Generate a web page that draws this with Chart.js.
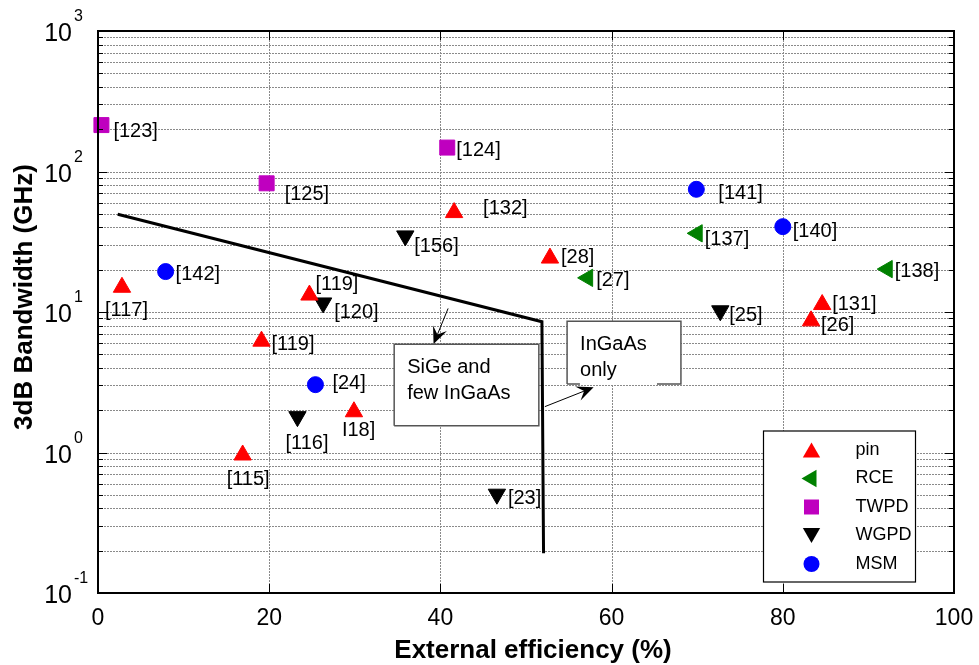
<!DOCTYPE html>
<html>
<head>
<meta charset="utf-8">
<script src="https://cdn.jsdelivr.net/npm/chart.js@4.4.0/dist/chart.umd.min.js"></script>
<style>
  html, body { margin: 0; padding: 0; background: #fff; }
  canvas { display: block; }
</style>
</head>
<body>
<canvas id="chart" width="979" height="665"></canvas>
<script>
// axis ticks
const xTicks = [0, 20, 40, 60, 80, 100];
const yDecades = [-1, 0, 1, 2, 3];

// pin photodiodes
const pinEff = [2.8, 24.7, 41.6, 19.1, 29.9, 16.9, 52.8, 84.6, 83.3];
const pinBw = [15.0, 13.2, 51, 6.2, 1.95, 0.96, 24.2, 11.3, 8.65];
const pinRefs = ['[117]', '[119]', '[132]', '[119]', 'I18]', '[115]', '[28]', '[131]', '[26]'];

// resonant cavity enhanced
const rceEff = [70.0, 57.2, 92.2];
const rceBw = [36.3, 17.5, 20.2];
const rceRefs = ['[137]', '[27]', '[138]'];

// travelling wave
const twpdEff = [0.4, 19.7, 40.8];
const twpdBw = [214, 82.4, 148];
const twpdRefs = ['[123]', '[125]', '[124]'];

// waveguide
const wgpdEff = [35.9, 26.3, 23.3, 72.7, 46.6];
const wgpdBw = [34.8, 11.6, 1.8, 10.2, 0.505];
const wgpdRefs = ['[156]', '[120]', '[116]', '[25]', '[23]'];

// metal-semiconductor-metal
const msmEff = [7.9, 25.4, 69.9, 80.0];
const msmBw = [19.4, 3.04, 74.7, 40.5];
const msmRefs = ['[142]', '[24]', '[141]', '[140]'];

// SiGe / InGaAs boundary
const boundaryEff = [2.3, 51.86, 52.05];
const boundaryBw = [49.6, 8.53, 0.192];

// where each reference label sits, in px from its marker (left edge, middle)
const pinLabelPos = [[-17, 23.5], [6, -10.5], [29, -4.5], [10, 3.5], [-12, 18.5], [-16, 24.5], [11, -0.5], [10, -0.5], [10, 4.5]];
const rceLabelPos = [[7.5, 6], [8.5, 3], [7.5, 2]];
const twpdLabelPos = [[12, 6], [18, 11], [9, 3]];
const wgpdLabelPos = [[9, 10.5], [11, 9.5], [-12, 26.5], [9, 4.5], [11, 4.5]];
const msmLabelPos = [[10, 3], [17, -1], [22, 4], [10, 5]];

// text boxes and arrows, in data coordinates
const notes = [
  { lines: ['SiGe and', 'few InGaAs'], x0: 34.6, x1: 51.5, y0: 5.9, y1: 1.55 },
  { lines: ['InGaAs', 'only'], x0: 54.8, x1: 68.1, y0: 8.6, y1: 3.07, gap: [56.3, 65.3] }
];
const arrows = [
  { from: [40.9, 10.6], to: [39.2, 5.92] },
  { from: [52.2, 2.12], to: [57.9, 2.91] }
];

const FONT = '"Liberation Sans", Arial, Helvetica, sans-serif';

function pts(xs, ys) {
  return xs.map((x, i) => ({ x: x, y: ys[i] }));
}

function markerSet(label, xs, ys, refs, pos, color, style, rotation, radius) {
  return {
    label: label,
    data: pts(xs, ys),
    refs: refs,
    labelPos: pos,
    pointStyle: style,
    rotation: rotation,
    pointRadius: radius,
    pointHoverRadius: radius,
    backgroundColor: color,
    borderColor: color,
    borderWidth: 1,
    showLine: false,
    clip: false
  };
}

// same geometry Chart.js uses for its point styles
function marker(ctx, style, rotation, r, x, y) {
  ctx.beginPath();
  if (style === 'circle') {
    ctx.arc(x, y, r, 0, Math.PI * 2);
  } else if (style === 'rect') {
    const s = Math.SQRT1_2 * r;
    ctx.rect(x - s, y - s, 2 * s, 2 * s);
  } else {
    let rad = rotation * Math.PI / 180;
    ctx.moveTo(x + Math.sin(rad) * r, y - Math.cos(rad) * r);
    for (let k = 0; k < 2; k++) {
      rad += Math.PI * 2 / 3;
      ctx.lineTo(x + Math.sin(rad) * r, y - Math.cos(rad) * r);
    }
    ctx.closePath();
  }
  ctx.fill();
}

const backdrop = {
  id: 'backdrop',
  beforeDatasetsDraw(chart) {
    const { ctx, chartArea: a, scales: { x, y } } = chart;
    ctx.save();
    ctx.strokeStyle = '#8a8a8a';
    ctx.lineWidth = 1;
    ctx.setLineDash([2, 1]);
    // horizontal grid at every 1..9 x 10^n
    for (let e = yDecades[0]; e < yDecades[yDecades.length - 1]; e++) {
      for (let k = 1; k <= 9; k++) {
        if (e === yDecades[0] && k === 1) continue;
        const py = Math.round(y.getPixelForValue(k * Math.pow(10, e))) + 0.5;
        ctx.beginPath();
        ctx.moveTo(a.left, py);
        ctx.lineTo(a.right, py);
        ctx.stroke();
      }
    }
    xTicks.slice(1, -1).forEach(v => {
      const px = Math.round(x.getPixelForValue(v)) + 0.5;
      ctx.beginPath();
      ctx.moveTo(px, a.top);
      ctx.lineTo(px, a.bottom);
      ctx.stroke();
    });
    ctx.restore();
  },
  afterDraw(chart) {
    const { ctx, chartArea: a, scales: { x, y } } = chart;
    ctx.save();

    // inward tick marks
    ctx.strokeStyle = '#000';
    ctx.lineWidth = 1;
    for (let e = yDecades[0]; e < yDecades[yDecades.length - 1]; e++) {
      for (let k = 1; k <= 9; k++) {
        const py = Math.round(y.getPixelForValue(k * Math.pow(10, e))) + 0.5;
        const len = k === 1 ? 9 : 5;
        ctx.beginPath();
        ctx.moveTo(a.left, py); ctx.lineTo(a.left + len, py);
        ctx.moveTo(a.right, py); ctx.lineTo(a.right - len, py);
        ctx.stroke();
      }
    }
    xTicks.forEach(v => {
      const px = Math.round(x.getPixelForValue(v)) + 0.5;
      ctx.beginPath();
      ctx.moveTo(px, a.bottom); ctx.lineTo(px, a.bottom - 9);
      ctx.moveTo(px, a.top); ctx.lineTo(px, a.top + 9);
      ctx.stroke();
    });

    // axes box
    ctx.lineWidth = 2;
    ctx.strokeRect(a.left, a.top, a.right - a.left, a.bottom - a.top);

    // tick labels
    ctx.fillStyle = '#000';
    ctx.font = '23px ' + FONT;
    ctx.textAlign = 'center';
    ctx.textBaseline = 'alphabetic';
    xTicks.forEach(v => ctx.fillText(String(v), x.getPixelForValue(v), a.bottom + 32));

    yDecades.forEach(e => {
      const py = y.getPixelForValue(Math.pow(10, e));
      ctx.font = '25px ' + FONT;
      ctx.textAlign = 'right';
      ctx.fillText('10', a.left - 26, py + 10);
      ctx.font = '16px ' + FONT;
      ctx.textAlign = 'left';
      ctx.fillText(String(e), a.left - 24, py - 10);
    });

    // axis titles
    ctx.font = 'bold 26px ' + FONT;
    ctx.textAlign = 'center';
    ctx.fillText('External efficiency (%)', (a.left + a.right) / 2 + 7, a.bottom + 65);
    ctx.save();
    ctx.translate(32, 297);
    ctx.rotate(-Math.PI / 2);
    ctx.fillText('3dB Bandwidth (GHz)', 0, 0);
    ctx.restore();

    // reference labels
    ctx.font = '20px ' + FONT;
    ctx.textAlign = 'left';
    ctx.textBaseline = 'middle';
    chart.data.datasets.forEach((ds, i) => {
      if (!ds.refs) return;
      chart.getDatasetMeta(i).data.forEach((pt, j) => {
        const off = ds.labelPos[j];
        ctx.fillText(ds.refs[j], pt.x + off[0], pt.y + off[1]);
      });
    });

    // annotation boxes
    notes.forEach(n => {
      const l = x.getPixelForValue(n.x0), r = x.getPixelForValue(n.x1);
      const t = y.getPixelForValue(n.y0), b = y.getPixelForValue(n.y1);
      ctx.fillStyle = '#fff';
      ctx.fillRect(l, t, r - l, b - t);
      ctx.strokeStyle = '#555';
      ctx.lineWidth = 1.5;
      ctx.beginPath();
      ctx.moveTo(l, b); ctx.lineTo(l, t); ctx.lineTo(r, t); ctx.lineTo(r, b);
      if (n.gap) {
        ctx.lineTo(x.getPixelForValue(n.gap[1]), b);
        ctx.moveTo(x.getPixelForValue(n.gap[0]), b);
      }
      ctx.lineTo(l, b);
      ctx.stroke();
      ctx.fillStyle = '#000';
      ctx.font = '20px ' + FONT;
      ctx.textBaseline = 'alphabetic';
      n.lines.forEach((s, k) => ctx.fillText(s, l + 13, t + 28.5 + k * 26.5));
    });

    // arrows
    ctx.strokeStyle = '#000';
    ctx.fillStyle = '#000';
    arrows.forEach(ar => {
      const fx = x.getPixelForValue(ar.from[0]), fy = y.getPixelForValue(ar.from[1]);
      const tx = x.getPixelForValue(ar.to[0]), ty = y.getPixelForValue(ar.to[1]);
      const ang = Math.atan2(ty - fy, tx - fx);
      const dx = Math.cos(ang), dy = Math.sin(ang);
      const L = 17, W = 7.5;
      ctx.lineWidth = 1;
      ctx.beginPath();
      ctx.moveTo(fx, fy);
      ctx.lineTo(tx - dx * L * 0.6, ty - dy * L * 0.6);
      ctx.stroke();
      ctx.beginPath();
      ctx.moveTo(tx, ty);
      ctx.lineTo(tx - dx * L - dy * W, ty - dy * L + dx * W);
      ctx.lineTo(tx - dx * L * 0.6, ty - dy * L * 0.6);
      ctx.lineTo(tx - dx * L + dy * W, ty - dy * L - dx * W);
      ctx.closePath();
      ctx.fill();
    });

    // legend
    const lx0 = 763.5, ly0 = 431, lw = 152, lh = 151;
    ctx.fillStyle = '#fff';
    ctx.fillRect(lx0, ly0, lw, lh);
    ctx.strokeStyle = '#000';
    ctx.lineWidth = 1.2;
    ctx.strokeRect(lx0, ly0, lw, lh);
    ctx.font = '18px ' + FONT;
    ctx.textBaseline = 'middle';
    let row = 0;
    chart.data.datasets.forEach(ds => {
      if (!ds.refs) return;
      const ry = ly0 + 19 + row * 28.5;
      ctx.fillStyle = ds.backgroundColor;
      marker(ctx, ds.pointStyle, ds.rotation, ds.pointRadius, lx0 + 48, ry + (ds.pointStyle === 'triangle' && ds.rotation === 0 ? 2.5 : ds.rotation === 180 ? -2.5 : 0));
      ctx.fillStyle = '#000';
      ctx.fillText(ds.label, lx0 + 92, ry);
      row++;
    });

    ctx.restore();
  }
};

const ctx = document.getElementById('chart').getContext('2d');
new Chart(ctx, {
  type: 'scatter',
  data: {
    datasets: [
      markerSet('pin', pinEff, pinBw, pinRefs, pinLabelPos, '#ff0000', 'triangle', 0, 10),
      markerSet('RCE', rceEff, rceBw, rceRefs, rceLabelPos, '#008000', 'triangle', 270, 10),
      markerSet('TWPD', twpdEff, twpdBw, twpdRefs, twpdLabelPos, '#bf00bf', 'rect', 0, 10.6),
      markerSet('WGPD', wgpdEff, wgpdBw, wgpdRefs, wgpdLabelPos, '#000000', 'triangle', 180, 10),
      markerSet('MSM', msmEff, msmBw, msmRefs, msmLabelPos, '#0000ff', 'circle', 0, 8),
      {
        label: 'boundary',
        type: 'line',
        data: pts(boundaryEff, boundaryBw),
        borderColor: '#000',
        borderWidth: 3,
        pointRadius: 0,
        fill: false,
        tension: 0
      }
    ]
  },
  options: {
    responsive: false,
    animation: false,
    events: [],
    layout: { padding: { top: 31, right: 25, left: 0, bottom: 0 } },
    plugins: { legend: { display: false }, tooltip: { enabled: false } },
    scales: {
      x: {
        type: 'linear', min: 0, max: 100,
        ticks: { display: false, stepSize: 20 },
        grid: { display: false, drawTicks: false },
        border: { display: false },
        afterFit(scale) { scale.height = 72; }
      },
      y: {
        type: 'logarithmic', min: 0.1, max: 1000,
        ticks: { display: false },
        grid: { display: false, drawTicks: false },
        border: { display: false },
        afterFit(scale) { scale.width = 98; }
      }
    }
  },
  plugins: [backdrop]
});
</script>
</body>
</html>
